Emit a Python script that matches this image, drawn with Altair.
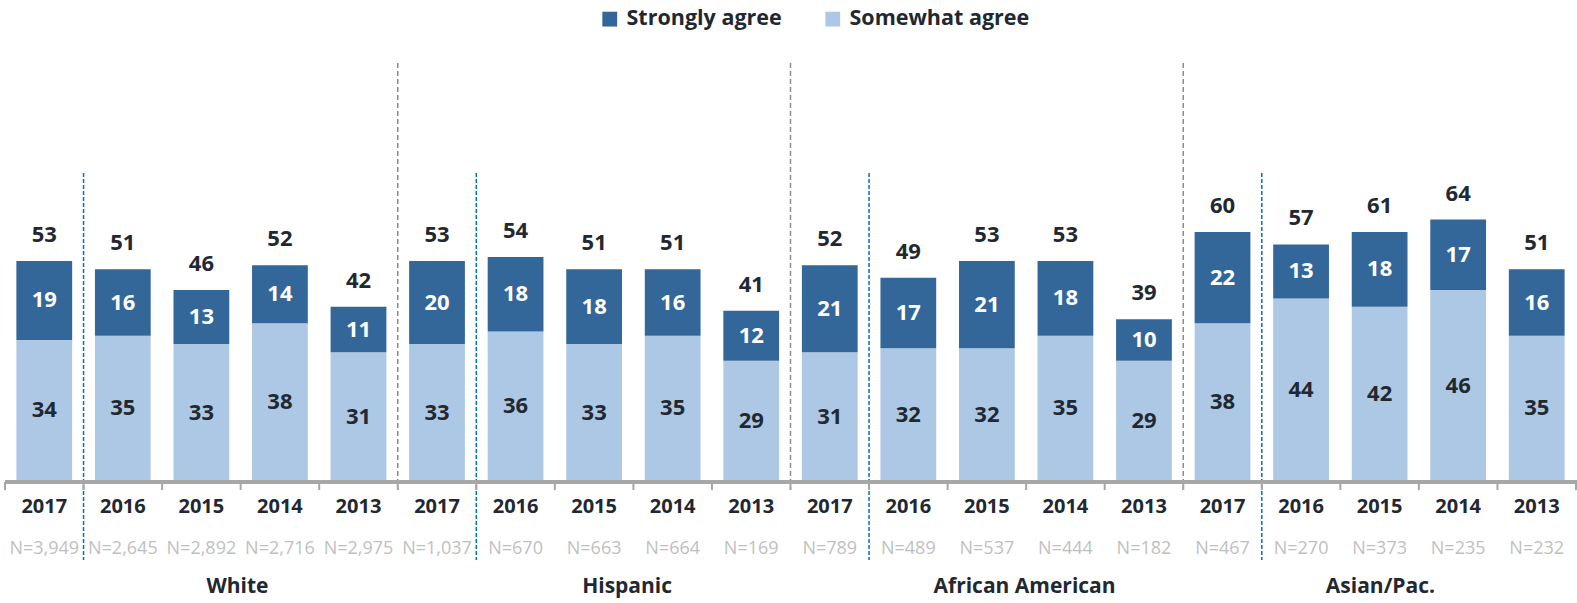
import altair as alt
import pandas as pd

groups = ["White", "Hispanic", "African American", "Asian/Pac."]
years = ["2017", "2016", "2015", "2014", "2013"] * 4
strongly = [19, 16, 13, 14, 11, 20, 18, 18, 16, 12, 21, 17, 21, 18, 10, 22, 13, 18, 17, 16]
somewhat = [34, 35, 33, 38, 31, 33, 36, 33, 35, 29, 31, 32, 32, 35, 29, 38, 44, 42, 46, 35]
totals = [53, 51, 46, 52, 42, 53, 54, 51, 51, 41, 52, 49, 53, 53, 39, 60, 57, 61, 64, 51]
n_labels = ["N=3,949", "N=2,645", "N=2,892", "N=2,716", "N=2,975",
            "N=1,037", "N=670", "N=663", "N=664", "N=169",
            "N=789", "N=489", "N=537", "N=444", "N=182",
            "N=467", "N=270", "N=373", "N=235", "N=232"]
series = ["Strongly agree", "Somewhat agree"]
# layout: label centre positions (in category units) of the group names
group_label_pos = [2.96, 7.92, 12.98, 17.51]

DARK = "#336699"
LIGHT = "#ADC8E4"
TEXT = "#222831"
FONT = "Open Sans"

W, H = 1571, 415
n = len(years)

rows = []
for i in range(n):
    rows.append(dict(i=i, series="Somewhat agree", v=somewhat[i], y0=0, y1=somewhat[i],
                     x0=i + 0.145, x1=i + 0.855, xm=i + 0.5))
    rows.append(dict(i=i, series="Strongly agree", v=strongly[i], y0=somewhat[i],
                     y1=somewhat[i] + strongly[i], x0=i + 0.145, x1=i + 0.855, xm=i + 0.5))
seg = pd.DataFrame(rows)
seg["ym"] = (seg["y0"] + seg["y1"]) / 2

cats = pd.DataFrame(dict(xm=[i + 0.5 for i in range(n)], year=years, nlab=n_labels,
                         top=[somewhat[i] + strongly[i] for i in range(n)], total=totals))
grp = pd.DataFrame(dict(g=groups, xg=group_label_pos))
ticks = pd.DataFrame(dict(xb=list(range(n + 1))))
grey_lines = pd.DataFrame(dict(xb=[5, 10, 15]))
blue_lines = pd.DataFrame(dict(xb=[1, 6, 11, 16]))

xs = alt.Scale(domain=[0, n], nice=False, zero=False)
ys = alt.Scale(domain=[0, 100], nice=False)

bars = alt.Chart(seg).mark_bar().encode(
    x=alt.X("x0:Q", scale=xs, axis=None),
    x2="x1:Q",
    y=alt.Y("y0:Q", scale=ys, axis=None),
    y2="y1:Q",
    color=alt.Color("series:N", scale=alt.Scale(domain=series, range=[DARK, LIGHT]),
                    legend=alt.Legend(title=None, orient="none", direction="horizontal",
                                      legendX=594, legendY=-58, symbolType="square",
                                      symbolSize=220, symbolStrokeWidth=0,
                                      labelFont=FONT, labelFontSize=21.5, labelFontWeight="bold",
                                      labelColor=TEXT, labelOffset=6, columnPadding=40,
                                      labelLimit=300)),
)

seg_text = alt.Chart(seg).mark_text(font=FONT, fontSize=22, fontWeight="bold", baseline="middle").encode(
    x=alt.X("xm:Q", scale=xs),
    y=alt.Y("ym:Q", scale=ys),
    text="v:Q",
    color=alt.Color("series:N", scale=alt.Scale(domain=series, range=["#FFFFFF", TEXT]), legend=None),
)

tot_text = alt.Chart(cats).mark_text(font=FONT, fontSize=22, fontWeight="bold", baseline="middle",
                                     dy=-26, color=TEXT).encode(
    x=alt.X("xm:Q", scale=xs), y=alt.Y("top:Q", scale=ys), text="total:Q")

year_text = alt.Chart(cats).mark_text(font=FONT, fontSize=20, fontWeight="bold", baseline="middle",
                                      color=TEXT).encode(
    x=alt.X("xm:Q", scale=xs), y=alt.value(H + 26), text="year:N")

n_text = alt.Chart(cats).mark_text(font=FONT, fontSize=18, baseline="middle", color="#BFBFBF").encode(
    x=alt.X("xm:Q", scale=xs), y=alt.value(H + 68), text="nlab:N")

g_text = alt.Chart(grp).mark_text(font=FONT, fontSize=21, fontWeight="bold", baseline="middle",
                                  color=TEXT).encode(
    x=alt.X("xg:Q", scale=xs), y=alt.value(H + 106), text="g:N")

axis_line = alt.Chart(ticks).mark_rule(color="#A6A6A6", strokeWidth=2.5).encode(
    x=alt.value(0), x2=alt.value(W + 5), y=alt.value(H + 1))

tick_marks = alt.Chart(ticks).mark_rule(color="#A6A6A6", strokeWidth=2).encode(
    x=alt.X("xb:Q", scale=xs), y=alt.value(H + 1), y2=alt.value(H + 9))

grey_rules = alt.Chart(grey_lines).mark_rule(color="#8C8C8C", strokeWidth=1.5, strokeDash=[5, 3]).encode(
    x=alt.X("xb:Q", scale=xs), y=alt.value(-3), y2=alt.value(H + 9))

blue_rules = alt.Chart(blue_lines).mark_rule(color="#0070C0", strokeWidth=1.5, strokeDash=[4, 2]).encode(
    x=alt.X("xb:Q", scale=xs), y=alt.value(107), y2=alt.value(H + 79))

chart = alt.layer(
    bars, grey_rules, blue_rules, axis_line, tick_marks, seg_text, tot_text, year_text, n_text, g_text
).properties(
    width=W, height=H,
    autosize=alt.AutoSizeParams(type="none"),
    padding={"left": 5, "top": 66, "right": 1, "bottom": 122},
).configure_view(stroke=None).resolve_scale(color="independent")

chart.save("out.html", embed_options={"renderer": "svg", "actions": False})
